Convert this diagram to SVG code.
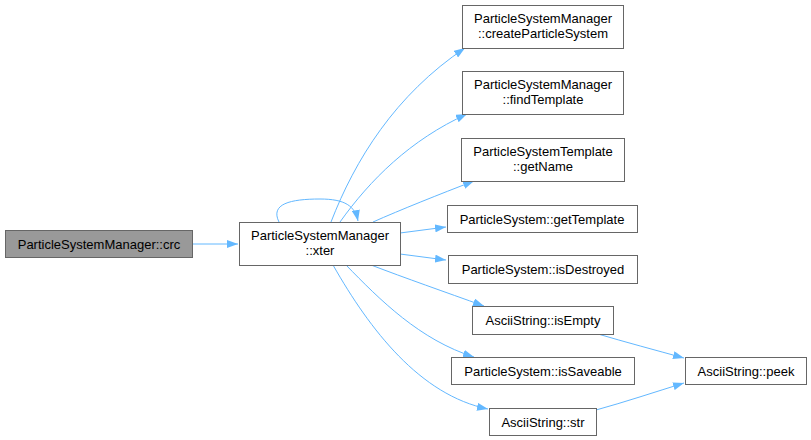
<svg xmlns="http://www.w3.org/2000/svg" width="811" height="440" viewBox="0 0 811 440">
<defs>
<marker id="ah" viewBox="0 0 11 8" refX="11" refY="4" markerWidth="11" markerHeight="8" markerUnits="userSpaceOnUse" orient="auto">
<polygon points="0,0 11,4 0,8" fill="#63b8ff"/>
</marker>
<style>
.n rect{fill:#ffffff;stroke:#666666;stroke-width:1}
.n.hl rect{fill:#999999}
.n text{font-family:"Liberation Sans",Arial,sans-serif;font-size:13px;fill:#000000;text-anchor:middle}
.e path{fill:none;stroke:#63b8ff;stroke-width:1;marker-end:url(#ah)}
</style>
</defs>
<rect width="811" height="440" fill="#ffffff"/>
<g class="e" id="edges">
<path d="M192,244 L238,244"/>
<path d="M279,222 C270,204 290,199 320,199 C345,199 355,206 358,221"/>
<path d="M331,222 C355,160 395,95 465,48"/>
<path d="M340,222 C370,180 410,140 467,114"/>
<path d="M373,222 C400,210 440,194 474,181"/>
<path d="M400,233 L446,227"/>
<path d="M400,254 L446,260"/>
<path d="M371,265 C405,278 445,292 484,306"/>
<path d="M346,265 C380,300 420,340 474,357"/>
<path d="M333,265 C370,330 420,395 488,409"/>
<path d="M598,334 C625,342 655,350 684,358"/>
<path d="M596,410 C625,402 655,392 684,383"/>
</g>
<g class="n hl" id="node-crc"><rect x="5.5" y="230.5" width="187" height="27"/><text x="99" y="249">ParticleSystemManager::crc</text></g>
<g class="n" id="node-xter"><rect x="239.5" y="222.5" width="161" height="43"/><text x="320" y="240">ParticleSystemManager</text><text x="320" y="255">::xter</text></g>
<g class="n" id="node-create"><rect x="462.5" y="5.5" width="161" height="43"/><text x="543" y="23">ParticleSystemManager</text><text x="543" y="38">::createParticleSystem</text></g>
<g class="n" id="node-find"><rect x="462.5" y="71.5" width="161" height="43"/><text x="543" y="89">ParticleSystemManager</text><text x="543" y="104">::findTemplate</text></g>
<g class="n" id="node-getname"><rect x="461.5" y="138.5" width="163" height="43"/><text x="543" y="156">ParticleSystemTemplate</text><text x="543" y="171">::getName</text></g>
<g class="n" id="node-gettemplate"><rect x="447.5" y="205.5" width="190" height="27"/><text x="542" y="224">ParticleSystem::getTemplate</text></g>
<g class="n" id="node-isdestroyed"><rect x="448.5" y="255.5" width="189" height="28"/><text x="543" y="274">ParticleSystem::isDestroyed</text></g>
<g class="n" id="node-isempty"><rect x="472.5" y="306.5" width="141" height="28"/><text x="543" y="325">AsciiString::isEmpty</text></g>
<g class="n" id="node-issaveable"><rect x="451.5" y="357.5" width="183" height="27"/><text x="543" y="376">ParticleSystem::isSaveable</text></g>
<g class="n" id="node-str"><rect x="489.5" y="408.5" width="107" height="27"/><text x="543" y="427">AsciiString::str</text></g>
<g class="n" id="node-peek"><rect x="685.5" y="357.5" width="121" height="27"/><text x="746" y="376">AsciiString::peek</text></g>
</svg>
